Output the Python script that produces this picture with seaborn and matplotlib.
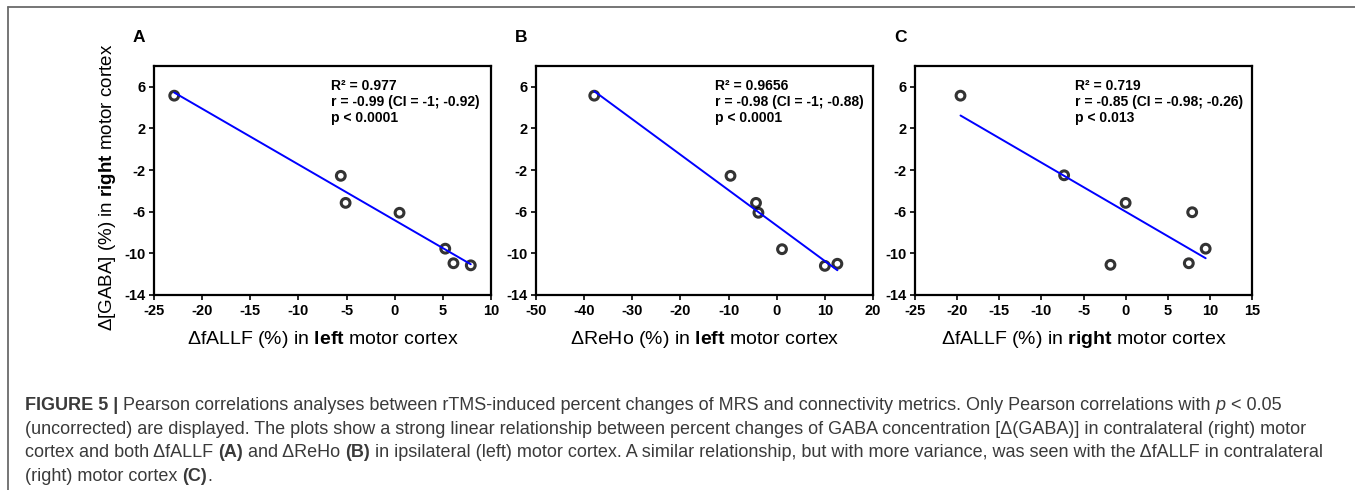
import matplotlib
matplotlib.use("Agg")
import matplotlib.pyplot as plt
from matplotlib.lines import Line2D
import seaborn as sns
import pandas as pd

# ---------------- data ----------------
gaba_a = [5.15, -2.55, -5.15, -6.1, -9.55, -10.95, -11.15]
fallf_left = [-22.9, -5.6, -5.1, 0.5, 5.25, 6.1, 7.9]

gaba_b = [5.15, -2.55, -5.15, -6.1, -9.6, -11.2, -11.0]
reho_left = [-37.9, -9.6, -4.3, -3.8, 1.1, 10.0, 12.6]

gaba_c = [5.15, -2.5, -5.15, -6.05, -9.55, -11.1, -10.95]
fallf_right = [-19.6, -7.3, 0.0, 7.9, 9.5, -1.8, 7.5]

panel_letters = ["A", "B", "C"]
stats_text = [
    "R\u00b2 = 0.977\nr = -0.99 (CI = -1; -0.92)\np < 0.0001",
    "R\u00b2 = 0.9656\nr = -0.98 (CI = -1; -0.88)\np < 0.0001",
    "R\u00b2 = 0.719\nr = -0.85 (CI = -0.98; -0.26)\np < 0.013",
]
xlabels = [
    r"$\Delta$fALLF (%) in $\mathbf{left}$ motor cortex",
    r"$\Delta$ReHo (%) in $\mathbf{left}$ motor cortex",
    r"$\Delta$fALLF (%) in $\mathbf{right}$ motor cortex",
]
ylabel = r"$\Delta$[GABA] (%) in $\mathbf{right}$ motor cortex"
xlims = [(-25, 10), (-50, 20), (-25, 15)]
xsteps = [5, 10, 5]
yticks = [-14, -10, -6, -2, 2, 6]
ylim = (-14, 8)

caption_lines = [
    [("FIGURE 5 | ", "bold", "normal"),
     ("Pearson correlations analyses between rTMS-induced percent changes of MRS and connectivity metrics. Only Pearson correlations with ", "normal", "normal"),
     ("p", "normal", "italic"),
     (" < 0.05", "normal", "normal")],
    [("(uncorrected) are displayed. The plots show a strong linear relationship between percent changes of GABA concentration [\u0394(GABA)] in contralateral (right) motor", "normal", "normal")],
    [("cortex and both \u0394fALLF ", "normal", "normal"),
     ("(A)", "bold", "normal"),
     (" and \u0394ReHo ", "normal", "normal"),
     ("(B)", "bold", "normal"),
     (" in ipsilateral (left) motor cortex. A similar relationship, but with more variance, was seen with the \u0394fALLF in contralateral", "normal", "normal")],
    [("(right) motor cortex ", "normal", "normal"),
     ("(C)", "bold", "normal"),
     (".", "normal", "normal")],
]

# ---------------- style ----------------
sns.set_style("ticks")
plt.rcParams["font.family"] = ["Liberation Sans", "DejaVu Sans"]
plt.rcParams["mathtext.fontset"] = "custom"
plt.rcParams["mathtext.rm"] = "Liberation Sans"
plt.rcParams["mathtext.bf"] = "Liberation Sans:bold"
plt.rcParams["mathtext.it"] = "Liberation Sans:italic"
plt.rcParams["axes.unicode_minus"] = False

W, H = 1355, 490
fig = plt.figure(figsize=(W / 100, H / 100), dpi=100)

lefts = [154, 536, 915]
top, bottom, width = 66, 295, 337

datasets = [(fallf_left, gaba_a), (reho_left, gaba_b), (fallf_right, gaba_c)]
stat_x = [0.525, 0.531, 0.475]

for i, (xv, yv) in enumerate(datasets):
    ax = fig.add_axes([lefts[i] / W, 1 - bottom / H, width / W, (bottom - top) / H])
    df = pd.DataFrame({"x": xv, "y": yv})
    sns.regplot(data=df, x="x", y="y", ax=ax, ci=None, color="black",
                scatter_kws=dict(facecolors="none", edgecolors="black", s=40,
                                 linewidths=2.2, zorder=3),
                line_kws=dict(color="#0000ff", lw=1.4, zorder=4))
    ax.set_xlim(*xlims[i])
    ax.set_ylim(*ylim)
    lo, hi = xlims[i]
    ax.set_xticks(list(range(lo, hi + 1, xsteps[i])))
    ax.set_yticks(yticks)
    for sp in ax.spines.values():
        sp.set_visible(True)
        sp.set_linewidth(1.6)
        sp.set_color("black")
    ax.tick_params(axis="both", direction="out", length=3.8, width=1.2,
                   colors="black", labelsize=10.5, pad=2.5)
    for lab in ax.get_xticklabels() + ax.get_yticklabels():
        lab.set_fontweight("bold")
    ax.set_xlabel(xlabels[i], fontsize=14, labelpad=8, color="black")
    if i == 0:
        ax.set_ylabel(ylabel, fontsize=13.5, color="black")
        ax.yaxis.set_label_coords(-0.108, 0.47)
    else:
        ax.set_ylabel("")
    ax.text(stat_x[i], 0.945, stats_text[i], transform=ax.transAxes,
            ha="left", va="top", fontsize=10, fontweight="bold",
            linespacing=1.2, color="black")
    fig.text((lefts[i] - 21) / W, 1 - 37 / H, panel_letters[i],
             ha="left", va="center", fontsize=12.5, fontweight="bold", color="black")

# ---------------- frame ----------------
frame_col = "#6a6a6a"
fig.add_artist(Line2D([8 / W, 1.0], [1 - 7 / H, 1 - 7 / H], transform=fig.transFigure,
                      color=frame_col, lw=1.3))
fig.add_artist(Line2D([8 / W, 8 / W], [1 - 7 / H, 0.0], transform=fig.transFigure,
                      color=frame_col, lw=1.3))

# ---------------- caption ----------------
renderer = fig.canvas.get_renderer()
cap_family = ["Liberation Sans", "DejaVu Sans"]
cap_size = 13
cap_color = "#3a3a3a"


def text_width(s, weight, style):
    t1 = fig.text(0, 0, "|" + s + "|", fontsize=cap_size, fontweight=weight,
                  fontstyle=style, family=cap_family)
    t2 = fig.text(0, 0, "||", fontsize=cap_size, fontweight=weight,
                  fontstyle=style, family=cap_family)
    w = t1.get_window_extent(renderer).width - t2.get_window_extent(renderer).width
    t1.remove()
    t2.remove()
    return w


baselines = [410, 434, 457, 481]
for line, yb in zip(caption_lines, baselines):
    x = 25
    for s, weight, style in line:
        fig.text(x / W, 1 - yb / H, s, fontsize=cap_size, fontweight=weight,
                 fontstyle=style, family=cap_family, color=cap_color,
                 ha="left", va="baseline")
        x += text_width(s, weight, style)

fig.savefig("out.png", dpi=100)
